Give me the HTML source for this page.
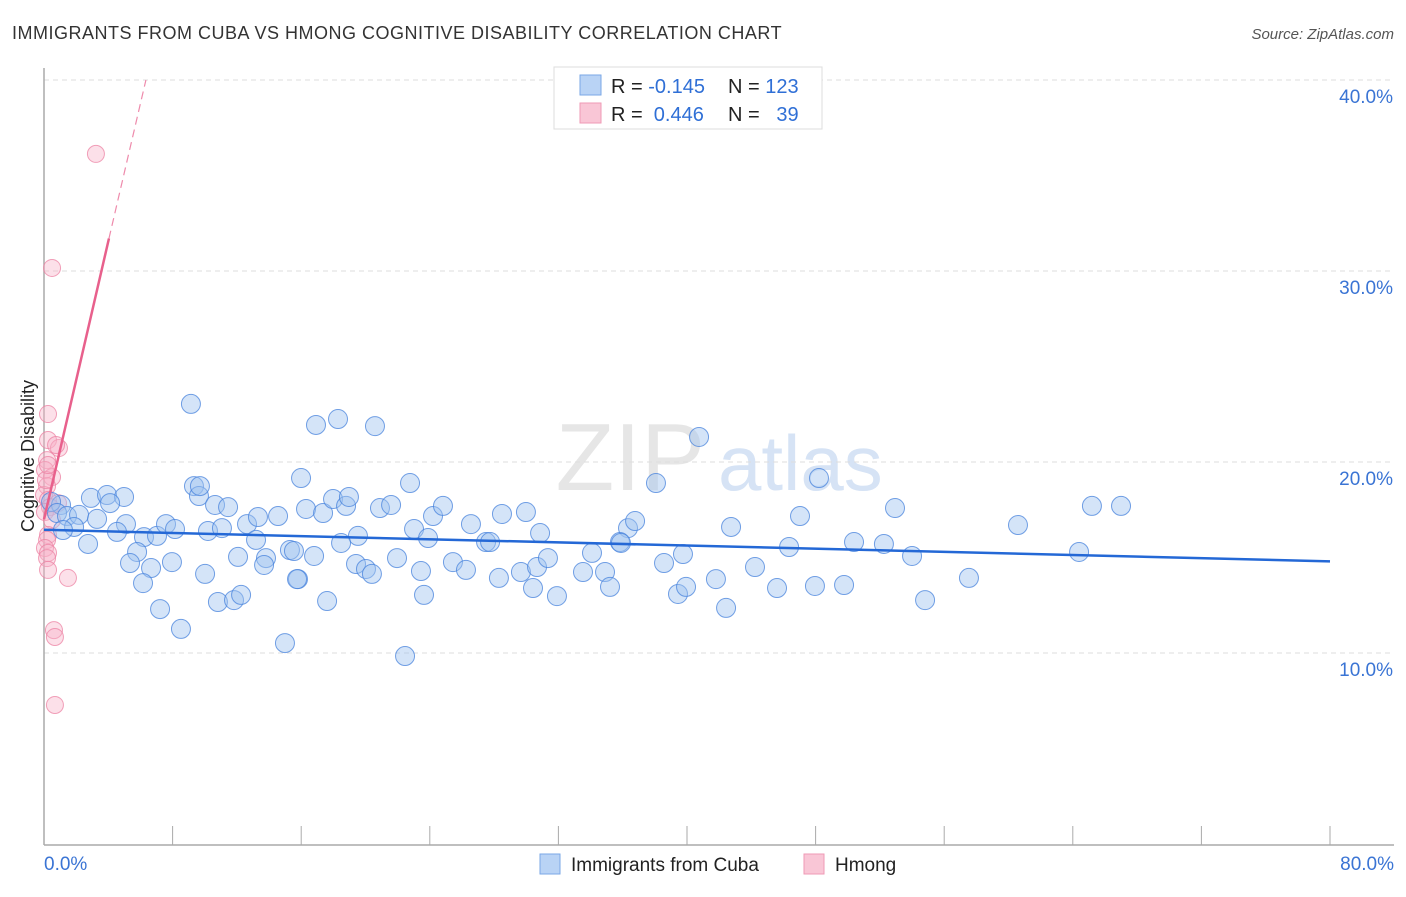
<!DOCTYPE html>
<html><head><meta charset="utf-8">
<style>
body{margin:0;background:#fff;font-family:"Liberation Sans",sans-serif;}
svg text{font-family:"Liberation Sans",sans-serif;}
</style></head>
<body>
<svg id="chart" width="1406" height="892" xmlns="http://www.w3.org/2000/svg">
<text x="12" y="39" font-size="18" fill="#333" letter-spacing="0.5">IMMIGRANTS FROM CUBA VS HMONG COGNITIVE DISABILITY CORRELATION CHART</text>
<text x="1394" y="39" font-size="15" fill="#555" font-style="italic" text-anchor="end">Source: ZipAtlas.com</text>
<text x="705" y="490" font-size="96" fill="#e6e6e6" font-family="Liberation Serif" text-anchor="end">ZIP</text>
<text x="718" y="490" font-size="78" fill="#d6e3f5">atlas</text>
<g id="grid"></g>
<g id="axes"></g>
<g id="marks"></g>
<text transform="translate(34,456) rotate(-90)" font-size="18" fill="#222" text-anchor="middle">Cognitive Disability</text>
<g>
<rect x="554" y="67" width="268" height="62" fill="#fff" stroke="#ddd"/>
<rect x="580" y="75" width="21" height="20" fill="#b9d3f5" stroke="#7aa7e6"/>
<rect x="580" y="103" width="21" height="20" fill="#f9c6d6" stroke="#ef9ab5"/>
<text x="611" y="93" font-size="20" fill="#222">R = <tspan fill="#2f6fd6">-0.145</tspan></text>
<text x="728" y="93" font-size="20" fill="#222">N = <tspan fill="#2f6fd6">123</tspan></text>
<text x="611" y="121" font-size="20" fill="#222">R = <tspan fill="#2f6fd6">&#160;0.446</tspan></text>
<text x="728" y="121" font-size="20" fill="#222">N = <tspan fill="#2f6fd6">&#160;&#160;39</tspan></text>
</g>
<g>
<rect x="540" y="854" width="20" height="20" fill="#b9d3f5" stroke="#7aa7e6"/>
<text x="571" y="871" font-size="19" fill="#222">Immigrants from Cuba</text>
<rect x="804" y="854" width="20" height="20" fill="#f9c6d6" stroke="#ef9ab5"/>
<text x="835" y="871" font-size="19" fill="#222">Hmong</text>
</g>
</svg>
<script>
const yTicks=[10,20,30,40];
const yTickLabels=["10.0%","20.0%","30.0%","40.0%"];
const xTicks=[0,8,16,24,32,40,48,56,64,72,80];
const cubaX=[9.14,16.92,18.29,20.59,40.75,15.99,22.77,48.21,9.33,9.64,2.92,3.92,4.98,4.11,1.06,0.44,0.81,1.43,2.18,1.87,1.18,2.74,3.30,5.10,4.54,6.22,7.03,7.59,8.15,9.70,10.64,11.45,10.20,11.07,12.63,13.31,13.19,14.56,15.30,15.55,16.30,17.36,17.98,18.79,18.97,19.53,20.90,21.59,23.02,23.89,24.20,24.82,26.56,27.50,28.49,29.98,30.86,38.07,36.33,36.77,35.83,42.74,47.03,52.94,60.59,65.19,67.00,64.39,5.79,5.35,6.66,7.96,12.07,13.81,13.69,15.80,16.80,18.48,19.41,20.03,20.40,21.96,23.45,25.44,26.25,27.75,28.30,29.67,30.67,31.35,33.53,34.09,34.90,35.89,38.57,39.75,41.80,44.23,46.35,50.39,52.25,54.00,57.54,6.16,10.02,15.74,23.64,30.42,31.91,35.21,39.44,39.94,45.60,47.96,49.77,54.81,7.22,10.82,11.82,12.26,17.61,42.43,8.52,14.99,22.46];
const cubaY=[23.04,21.94,22.25,21.88,21.31,19.16,18.90,19.16,18.74,18.22,18.12,18.27,18.17,17.85,17.75,17.91,17.33,17.17,17.23,16.60,16.44,15.71,17.02,16.75,16.34,16.07,16.13,16.75,16.49,18.74,17.75,17.64,16.39,16.54,16.75,17.12,15.92,17.17,15.39,15.34,17.54,17.33,18.06,17.70,18.17,16.13,17.59,17.75,16.49,16.02,17.17,17.70,16.75,15.81,17.28,17.38,16.28,18.90,16.54,16.91,15.81,16.60,17.17,17.59,16.70,17.70,17.70,15.29,15.29,14.71,14.45,14.76,15.03,14.97,14.61,13.87,15.08,15.76,14.66,14.40,14.14,14.97,14.29,14.76,14.35,15.81,13.93,14.24,14.50,14.97,14.24,15.24,14.24,15.76,14.71,15.18,13.87,14.50,15.55,15.81,15.71,15.08,13.93,13.66,14.14,13.87,13.04,13.40,12.98,13.46,13.09,13.46,13.40,13.51,13.56,12.77,12.30,12.67,12.77,13.04,12.72,12.36,11.26,10.52,9.84];
const hmongX=[3.23,0.50,0.25,0.25,0.93,0.19,0.06,0.50,0.19,0,0.25,0.87,0.37,0.06,0.50,0.25,0.19,0.06,0.25,0.19,0.25,1.49,0.62,0.68,0.68,0.12,0.25,0.75];
const hmongY=[36.13,30.16,22.51,21.15,20.73,20.10,19.58,19.21,18.74,18.27,18.01,17.85,17.64,17.38,16.96,16.18,15.92,15.50,15.24,14.97,14.35,13.93,11.20,10.84,7.28,19.06,19.84,20.89];
const cubaTrend=[0,16.45,80,14.8];
const hmongTrend=[0,17.0,4.04,31.7,6.34,40.0];

const NS="http://www.w3.org/2000/svg";
const X0=44,X1=1330,Y0=844,PXY=19.1;
function sx(v){return X0+(X1-X0)*v/80;}
function sy(v){return Y0-v*PXY;}
function mk(tag,attrs,parent){const e=document.createElementNS(NS,tag);for(const k in attrs)e.setAttribute(k,attrs[k]);parent.appendChild(e);return e;}
const grid=document.getElementById('grid'),axes=document.getElementById('axes'),marks=document.getElementById('marks');
yTicks.forEach((t,i)=>{
  const l=mk('line',{x1:X0,x2:1394,y1:sy(t),y2:sy(t),stroke:'#ddd','stroke-dasharray':'5,4'},grid);
  
  
  const tx=mk('text',{x:1393,y:sy(t)+23,'font-size':19,fill:'#3a74d4','text-anchor':'end'},axes);
  tx.textContent=yTickLabels[i];
  
  
});
const ax=mk('line',{x1:X0,x2:X0,y1:68,y2:845,stroke:'#aaa','stroke-width':1.5},axes);


const bx=mk('line',{x1:X0,x2:1394,y1:845,y2:845,stroke:'#aaa','stroke-width':1.5},axes);


xTicks.forEach(t=>{
  const l=mk('line',{x1:sx(t),x2:sx(t),y1:826,y2:845,stroke:'#aaa'},axes);
  
  
});
const xl0=mk('text',{x:44,y:870,'font-size':19,fill:'#3a74d4'},axes);xl0.textContent='0.0%';


const xl1=mk('text',{x:1394,y:870,'font-size':19,fill:'#3a74d4','text-anchor':'end'},axes);xl1.textContent='80.0%';



hmongX.forEach((v,i)=>{
  const c=mk('circle',{cx:sx(v),cy:sy(hmongY[i]),r:8.5,fill:'rgba(247,178,199,0.4)',stroke:'rgba(236,130,163,0.75)','stroke-width':1},marks);
  
  
});
cubaX.forEach((v,i)=>{
  const c=mk('circle',{cx:sx(v),cy:sy(cubaY[i]),r:9.5,fill:'rgba(160,196,240,0.45)',stroke:'rgba(70,130,220,0.75)','stroke-width':1},marks);
  
  
});
const ct=mk('line',{x1:sx(cubaTrend[0]),y1:sy(cubaTrend[1]),x2:sx(cubaTrend[2]),y2:sy(cubaTrend[3]),stroke:'#2468d6','stroke-width':2.5},marks);


const ht=mk('line',{x1:sx(hmongTrend[0]),y1:sy(hmongTrend[1]),x2:sx(hmongTrend[2]),y2:sy(hmongTrend[3]),stroke:'#e8608c','stroke-width':2.5},marks);


const hd=mk('line',{x1:sx(hmongTrend[2]),y1:sy(hmongTrend[3]),x2:sx(hmongTrend[4]),y2:sy(hmongTrend[5]),stroke:'#ee8aab','stroke-width':1.2,'stroke-dasharray':'8,5'},marks);


</script>
</body></html>
